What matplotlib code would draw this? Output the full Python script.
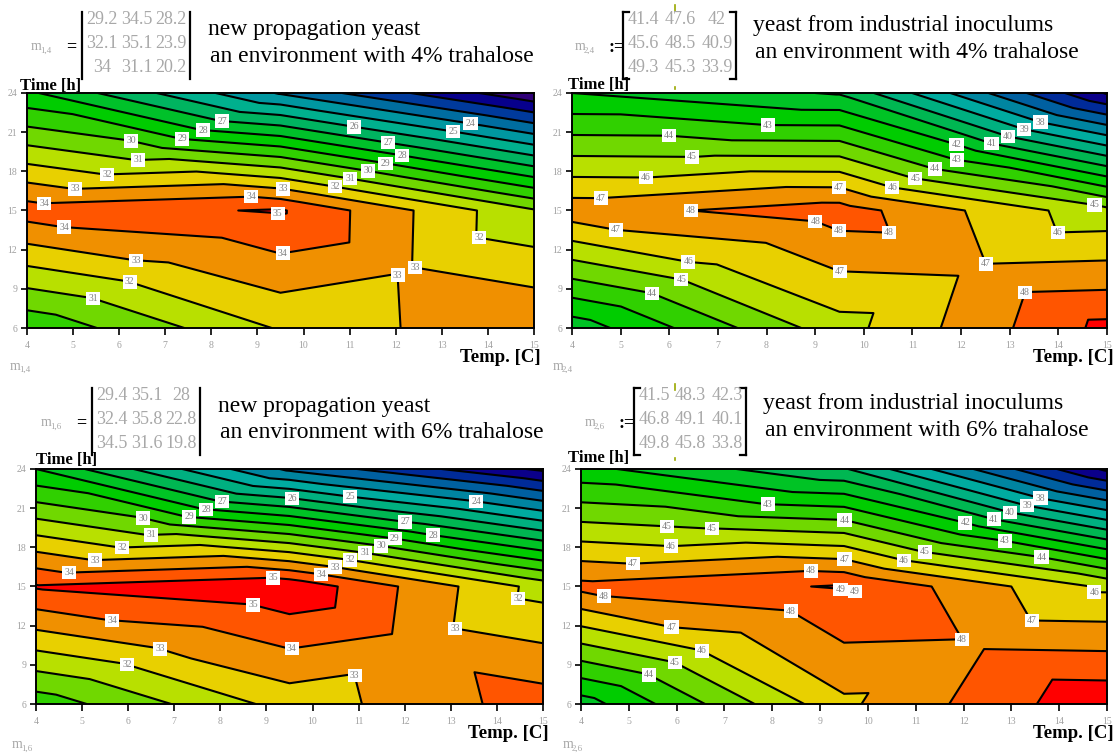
import numpy as np
import matplotlib
matplotlib.use("Agg")
import matplotlib.pyplot as plt
import matplotlib.tri as mtri
from matplotlib.colors import LinearSegmentedColormap
from matplotlib.lines import Line2D

W, H = 1116, 756
plt.rcParams['font.family'] = ['Liberation Serif', 'DejaVu Serif']

temps = [4, 9.5, 15]
times = [6, 15, 24]

m_14 = [[29.2, 34.5, 28.2], [32.1, 35.1, 23.9], [34, 31.1, 20.2]]
m_24 = [[41.4, 47.6, 42], [45.6, 48.5, 40.9], [49.3, 45.3, 33.9]]
m_16 = [[29.4, 35.1, 28], [32.4, 35.8, 22.8], [34.5, 31.6, 19.8]]
m_26 = [[41.5, 48.3, 42.3], [46.8, 49.1, 40.1], [49.8, 45.8, 33.8]]

names = ["1,4", "2,4", "1,6", "2,6"]
line1 = ["new propagation yeast", "yeast from industrial inoculums",
         "new propagation yeast", "yeast from industrial inoculums"]
line2 = ["an environment with 4% trahalose", "an environment with 4% trahalose",
         "an environment with 6% trahalose", "an environment with 6% trahalose"]

x_ticks = list(range(4, 16))
y_ticks = [6, 9, 12, 15, 18, 21, 24]

# band colours counted down from the highest band
warm_bands = ["#ff0000", "#ff5500", "#f09000", "#e8d000", "#b8e000", "#70d800", "#30d000"]
cool_cmap = LinearSegmentedColormap.from_list(
    "mathcad_cool", ["#00cc00", "#00c030", "#00b070", "#00b0a0", "#0080a0", "#0050a0", "#000090", "#300078"])

# where the contour labels sit, in image pixels
labels_14 = [(44, 205), (64, 229), (75, 189), (107, 176), (138, 161), (131, 142), (182, 141),
             (203, 133), (222, 122), (354, 128), (388, 144), (402, 157), (385, 166), (368, 172),
             (350, 181), (335, 187), (283, 190), (251, 198), (278, 213), (283, 255), (136, 262),
             (129, 284), (93, 299), (453, 133), (470, 126), (479, 237), (401, 275), (415, 268)]
labels_24 = [(601, 201), (616, 231), (646, 179), (692, 161), (669, 137), (768, 126), (839, 189),
             (691, 211), (815, 222), (839, 231), (889, 233), (892, 189), (915, 180), (935, 170),
             (956, 146), (957, 158), (991, 145), (1007, 139), (1024, 130), (1040, 124), (1094, 207),
             (1058, 233), (985, 266), (1024, 292), (840, 272), (688, 264), (681, 281), (652, 294)]
labels_16 = [(69, 574), (95, 561), (122, 550), (151, 537), (143, 520), (189, 519), (206, 510),
             (222, 503), (292, 500), (350, 498), (476, 502), (405, 524), (433, 537), (395, 538),
             (381, 546), (365, 553), (350, 560), (335, 566), (321, 574), (273, 578), (253, 605),
             (112, 622), (160, 649), (127, 664), (292, 651), (455, 629), (518, 600), (357, 675)]
labels_26 = [(604, 598), (633, 566), (671, 548), (712, 531), (667, 521), (768, 507), (844, 522),
             (965, 524), (993, 522), (1010, 512), (1027, 506), (1040, 500), (1005, 541), (1041, 559),
             (925, 552), (904, 561), (844, 561), (811, 572), (840, 590), (856, 592), (791, 611),
             (671, 629), (702, 651), (674, 664), (649, 675), (1032, 622), (962, 640), (1094, 593)]


def ftext(x, y, s, **kw):
    kw.setdefault('va', 'center')
    return fig.text(x / W, 1 - y / H, s, **kw)


def fline(xs, ys, color='black', lw=1.6):
    fig.add_artist(Line2D([x / W for x in xs], [1 - y / H for y in ys], color=color, lw=lw))


def split_grid(m):
    # every cell is cut in four triangles around its centre, centre = mean of the corners
    xs, ys, zs, tris = [], [], [], []
    for i, tx in enumerate(temps):
        for j, ty in enumerate(times):
            xs.append(tx)
            ys.append(ty)
            zs.append(m[i][j])
    for i in range(len(temps) - 1):
        for j in range(len(times) - 1):
            a = i * 3 + j
            b = (i + 1) * 3 + j
            c = (i + 1) * 3 + j + 1
            d = i * 3 + j + 1
            xs.append((temps[i] + temps[i + 1]) / 2)
            ys.append((times[j] + times[j + 1]) / 2)
            zs.append((zs[a] + zs[b] + zs[c] + zs[d]) / 4)
            k = len(xs) - 1
            tris += [[a, b, k], [b, c, k], [c, d, k], [d, a, k]]
    return mtri.Triangulation(xs, ys, tris), np.array(zs)


def band_list(n):
    cool = [cool_cmap(k / (n - len(warm_bands) - 1)) for k in range(n - len(warm_bands))]
    return (warm_bands + cool)[::-1]


def draw_panel(m, box, label_px):
    left, top, right, bottom = box
    ax = fig.add_axes([left / W, 1 - bottom / H, (right - left) / W, (bottom - top) / H])
    tri, z = split_grid(m)
    levels = np.arange(np.floor(z.min()), np.ceil(z.max()) + 1)
    ax.tricontourf(tri, z, levels=levels, colors=band_list(len(levels) - 1))
    cs = ax.tricontour(tri, z, levels=levels, colors='black', linewidths=1.5)
    ax.set_xlim(4, 15)
    ax.set_ylim(6, 24)
    ax.set_xticks(x_ticks)
    ax.set_yticks(y_ticks)
    ax.tick_params(axis='x', length=5, width=1.2, labelsize=7, labelcolor='#a0a0a0', pad=4)
    ax.tick_params(axis='y', length=4, width=1.2, labelsize=7, labelcolor='#a0a0a0', pad=3)
    for s in ax.spines.values():
        s.set_linewidth(1.4)

    manual = [(4 + (px - left) / (right - left) * 11, 24 - (py - top) / (bottom - top) * 18)
              for px, py in label_px]
    texts = ax.clabel(cs, levels, fmt='%d', fontsize=7, inline=False, manual=manual)
    for t in texts:
        t.set_rotation(0)
        t.set_color('#808080')
        t.set_bbox(dict(facecolor='white', edgecolor='none', pad=1.6))
    return ax


def draw_matrix(m, x0, x1, y0, y1, square):
    fline([x0, x0], [y0, y1])
    fline([x1, x1], [y0, y1])
    if square:
        for x, d in ((x0, 6), (x1, -6)):
            fline([x, x + d], [y0, y0])
            fline([x, x + d], [y1, y1])
    col_x = np.linspace(x0 + 20, x1 - 19, 3)
    row_y = [y0 + 8, y0 + 32, y0 + 56]
    for i in range(3):
        for j in range(3):
            ftext(col_x[j], row_y[i], f"{m[i][j]:g}", ha='center', fontsize=13, color='#a8a8a8')


fig = plt.figure(figsize=(W / 100, H / 100), dpi=100)

draw_panel(m_14, (27, 93, 534, 328), labels_14)
draw_panel(m_24, (572, 93, 1107, 328), labels_24)
draw_panel(m_16, (36, 469, 543, 704), labels_16)
draw_panel(m_26, (581, 469, 1107, 704), labels_26)

draw_matrix(m_14, 82, 190, 12, 79, False)
draw_matrix(m_24, 623, 736, 12, 79, True)
draw_matrix(m_16, 92, 200, 388, 455, False)
draw_matrix(m_26, 634, 746, 388, 455, True)

head_x = [(31, 66, "="), (575, 609, ":="), (41, 76, "="), (585, 619, ":=")]
head_y = [47, 47, 423, 423]
title_x = [(208, 210), (753, 755), (218, 220), (763, 765)]
title_y = [(30, 57), (26, 53), (406, 432), (404, 431)]
time_x = [20, 568, 36, 568]
time_y = [86, 85, 460, 458]
temp_x = [541, 1114, 549, 1114]
temp_y = [358, 358, 733, 733]
foot = [(10, 366), (553, 366), (12, 745), (563, 745)]

for i in range(4):
    ftext(head_x[i][0], head_y[i], "m", fontsize=10, color='#a8a8a8')
    ftext(head_x[i][0] + 9, head_y[i] + 4, names[i], fontsize=6.5, color='#a8a8a8')
    ftext(head_x[i][1], head_y[i], head_x[i][2], fontsize=13, color='black', weight='bold')
    ftext(title_x[i][0], title_y[i][0], line1[i], fontsize=17, color='black')
    ftext(title_x[i][1], title_y[i][1], line2[i], fontsize=17, color='black')
    ftext(time_x[i], time_y[i], "Time [h]", fontsize=12, weight='bold')
    ftext(temp_x[i], temp_y[i], "Temp. [C]", fontsize=13.5, weight='bold', ha='right')
    ftext(foot[i][0], foot[i][1], "m", fontsize=10, color='#a8a8a8')
    ftext(foot[i][0] + 9, foot[i][1] + 4, names[i], fontsize=6.5, color='#a8a8a8')

# small green marks left over around the right hand matrices
fline([675, 675], [5, 11], color='#9aa800', lw=1.2)
fline([675, 675], [87, 89], color='#9aa800', lw=1.2)
fline([675, 675], [384, 390], color='#9aa800', lw=1.2)
fline([675, 675], [458, 460], color='#9aa800', lw=1.2)

fig.savefig("out.png", dpi=100)
